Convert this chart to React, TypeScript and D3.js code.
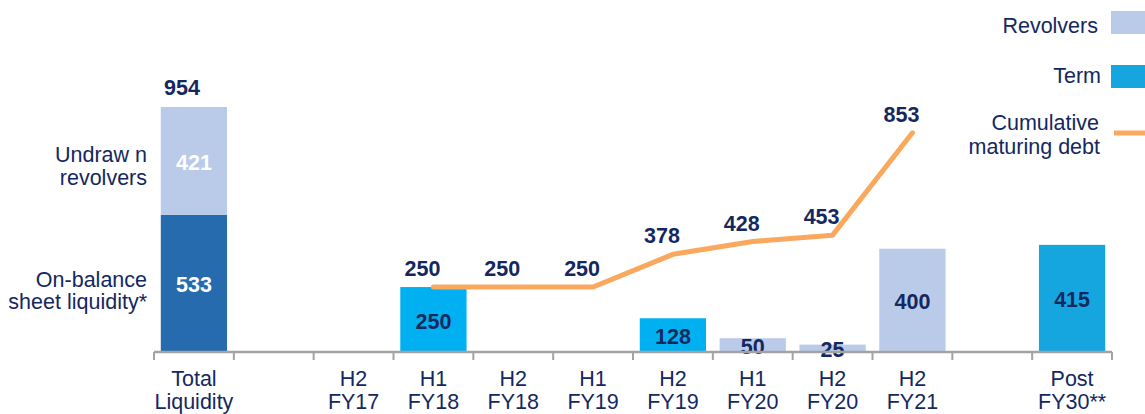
import * as d3 from 'd3';

// categories along the axis ("gap" = empty slot)
const categories = [
    'Total\nLiquidity', 'gap1', 'H2\nFY17', 'H1\nFY18', 'H2\nFY18', 'H1\nFY19',
    'H2\nFY19', 'H1\nFY20', 'H2\nFY20', 'H2\nFY21', 'gap2', 'Post\nFY30**',
];

// total liquidity stack
const onBalance = 533;
const undrawn = 421;

// maturities
const termMaturities = [
    { cat: 'H1\nFY18', value: 250 },
    { cat: 'H2\nFY19', value: 128 },
    { cat: 'Post\nFY30**', value: 415 },
];
const revolverMaturities = [
    { cat: 'H1\nFY20', value: 50 },
    { cat: 'H2\nFY20', value: 25 },
    { cat: 'H2\nFY21', value: 400 },
];

// cumulative maturing debt
const cumulative = [
    { cat: 'H1\nFY18', value: 250 },
    { cat: 'H2\nFY18', value: 250 },
    { cat: 'H1\nFY19', value: 250 },
    { cat: 'H2\nFY19', value: 378 },
    { cat: 'H1\nFY20', value: 428 },
    { cat: 'H2\nFY20', value: 453 },
    { cat: 'H2\nFY21', value: 853 },
];

const W = 1145;
const H = 414;
const navy = '#14285f';
const revColor = '#bacae9';
const termColor = '#15a6df';
const termNear = '#00b0f0';
const liqColor = '#256bae';
const lineColor = '#f9a85e';
const font = '"Liberation Sans", Arial, sans-serif';
const FS = 21.5;

export default function App() {
    const x = d3.scaleBand<string>()
        .domain(categories)
        .range([154, 1112])
        .paddingInner(0.17)
        .paddingOuter(0.085);
    const y = d3.scaleLinear().domain([0, onBalance + undrawn]).range([351, 107]);
    const cx = (c: string) => (x(c) ?? 0) + x.bandwidth() / 2;

    const line = d3.line<{ cat: string; value: number }>()
        .x((d) => cx(d.cat))
        .y((d) => y(d.value));

    const step = x.step();
    const x0 = 154;
    const tickXs = d3.range(categories.length + 1).map((i) => x0 + i * step);

    const bars = [
        ...termMaturities.map((d) => ({ ...d, fill: d.cat.startsWith('Post') ? termColor : termNear })),
        ...revolverMaturities.map((d) => ({ ...d, fill: revColor })),
    ];

    const liqX = x(categories[0]) ?? 0;
    const lc = cx(categories[0]);

    return (
        <svg width={W} height={H} style={{ position: 'absolute', left: 0, top: 0, fontFamily: font }}>
            {/* total liquidity stack */}
            <rect x={liqX} width={x.bandwidth()} y={y(onBalance)} height={y(0) - y(onBalance)} fill={liqColor} />
            <rect x={liqX} width={x.bandwidth()} y={y(onBalance + undrawn)} height={y(onBalance) - y(onBalance + undrawn)} fill={revColor} />
            <text x={lc} y={(y(0) + y(onBalance)) / 2 + 2} dy="0.35em" textAnchor="middle" fill="#fff" fontWeight="bold" fontSize={FS}>{onBalance}</text>
            <text x={lc} y={(y(onBalance) + y(onBalance + undrawn)) / 2 + 2} dy="0.35em" textAnchor="middle" fill="#fff" fontWeight="bold" fontSize={FS}>{undrawn}</text>
            <text x={lc - 12} y={y(onBalance + undrawn) - 12} textAnchor="middle" fill={navy} fontWeight="bold" fontSize={FS}>{onBalance + undrawn}</text>

            {/* side annotations */}
            <g fill={navy} fontSize={FS} textAnchor="end">
                <text x={147} y={162}>Undraw n</text>
                <text x={147} y={185}>revolvers</text>
                <text x={147} y={287}>On-balance</text>
                <text x={147} y={309}>sheet liquidity*</text>
            </g>

            {/* maturity bars */}
            {bars.map((d) => (
                <g key={d.cat}>
                    <rect x={x(d.cat)} width={x.bandwidth()} y={y(d.value)} height={y(0) - y(d.value)} fill={d.fill} />
                    <text x={cx(d.cat)} y={(y(0) + y(d.value)) / 2 + 2} dy="0.35em" textAnchor="middle" fill={navy} fontWeight="bold" fontSize={FS}>{d.value}</text>
                </g>
            ))}

            {/* axis */}
            <line x1={x0} x2={tickXs[tickXs.length - 1]} y1={352} y2={352} stroke="#a3a3a3" strokeWidth={2.5} />
            {tickXs.map((t, i) => (
                <line key={i} x1={t} x2={t} y1={352} y2={360} stroke="#a3a3a3" strokeWidth={2} />
            ))}
            {categories.filter((c) => !c.startsWith('gap')).map((c) => {
                const [a, b] = c.split('\n');
                return (
                    <g key={c} fill={navy} fontSize={FS} textAnchor="middle">
                        <text x={cx(c)} y={386}>{a}</text>
                        <text x={cx(c)} y={409}>{b}</text>
                    </g>
                );
            })}

            {/* cumulative line */}
            <path d={line(cumulative) ?? ''} fill="none" stroke={lineColor} strokeWidth={5} strokeLinecap="round" strokeLinejoin="round" />
            {cumulative.map((d) => (
                <text key={d.cat} x={cx(d.cat) - 11} y={y(d.value) - 11} textAnchor="middle" fill={navy} fontWeight="bold" fontSize={FS}>{d.value}</text>
            ))}

            {/* legend */}
            <g fill={navy} fontSize={FS} textAnchor="end">
                <text x={1098} y={33}>Revolvers</text>
                <text x={1101} y={83}>Term</text>
                <text x={1099} y={130}>Cumulative</text>
                <text x={1100} y={154}>maturing debt</text>
            </g>
            <rect x={1111} y={11} width={34} height={23} fill={revColor} />
            <rect x={1111} y={65} width={34} height={23} fill={termColor} />
            <line x1={1114} x2={1145} y1={133} y2={133} stroke={lineColor} strokeWidth={5} />
        </svg>
    );
}
